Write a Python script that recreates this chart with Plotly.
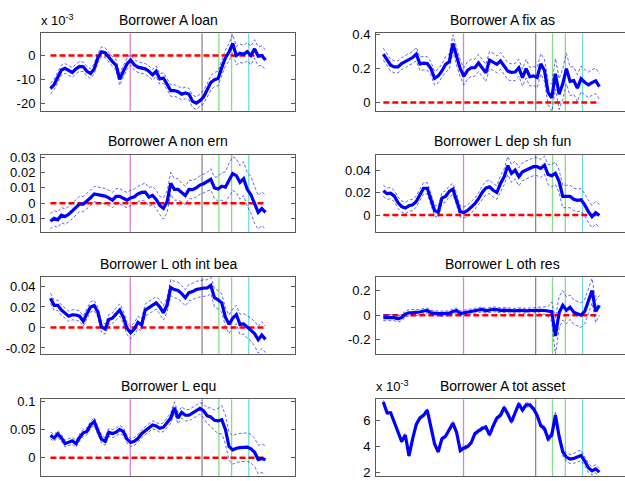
"""Borrower balance-sheet responses, 4x2 grid of small panels."""

import plotly.graph_objects as go

quarters = list(range(1, 61))
event_x = [22.9, 42.6, 47.2, 50.7, 55.4]
event_colors = ["#da80da", "#8a8a8a", "#86dc86", "#86dc86", "#70dde6"]

titles = [
    "Borrower A loan", "Borrower A fix as",
    "Borrower A non ern", "Borrower L dep sh fun",
    "Borrower L oth int bea", "Borrower L oth res",
    "Borrower L equ", "Borrower A tot asset",
]

# Borrower A loan, in units of 10^-3
a_loan = [-13.7, -12.0, -9.0, -6.0, -5.3, -6.0, -7.0, -5.5, -4.5, -4.6,
          -6.5, -7.5, -5.5, -1.0, 1.6, 1.2, -0.8, -2.5, -4.0, -9.9,
          -6.5, -3.5, -1.8, -3.8, -4.8, -5.2, -5.5, -6.5, -8.0, -6.5,
          -9.7, -9.3, -12.0, -14.5, -14.5, -15.0, -16.0, -15.5, -16.0, -19.0,
          -19.7, -18.7, -17.2, -14.5, -11.2, -10.0, -9.5, -5.0, -1.0, 1.5,
          5.0, 0.0, 1.0, 0.5, 1.6, 0.0, 2.8, -0.3, 0.0, -1.8]
a_loan_se = [2.2, 2.2, 2.2, 2.0, 2.0, 2.0, 2.0, 2.0, 2.0, 2.0,
             2.0, 2.0, 2.0, 2.0, 2.0, 2.0, 2.0, 2.0, 2.2, 2.4,
             2.4, 2.2, 2.2, 2.2, 2.2, 2.2, 2.2, 2.2, 2.2, 2.2,
             2.2, 2.2, 2.4, 2.4, 2.4, 2.4, 2.4, 2.4, 2.4, 2.6,
             2.6, 2.6, 2.8, 2.8, 3.0, 3.0, 3.0, 3.2, 3.4, 3.6,
             3.8, 3.8, 3.8, 3.8, 3.8, 3.8, 3.8, 4.0, 4.0, 4.2]

a_fix = [0.285, 0.25, 0.22, 0.21, 0.21, 0.23, 0.24, 0.255, 0.265, 0.285,
         0.228, 0.232, 0.23, 0.2, 0.143, 0.157, 0.186, 0.225, 0.24, 0.348,
         0.27, 0.2, 0.155, 0.19, 0.205, 0.205, 0.233, 0.2, 0.175, 0.25,
         0.24, 0.225, 0.245, 0.215, 0.185, 0.178, 0.18, 0.205, 0.147, 0.2,
         0.152, 0.157, 0.147, 0.228, 0.19, 0.06, 0.028, 0.17, 0.05, 0.11,
         0.2, 0.125, 0.13, 0.085, 0.14, 0.12, 0.105, 0.118, 0.128, 0.094]
a_fix_se = [0.035, 0.035, 0.035, 0.035, 0.035, 0.035, 0.035, 0.035, 0.035, 0.04,
            0.04, 0.04, 0.04, 0.04, 0.04, 0.04, 0.04, 0.045, 0.045, 0.05,
            0.05, 0.05, 0.05, 0.05, 0.05, 0.05, 0.05, 0.05, 0.05, 0.05,
            0.05, 0.05, 0.05, 0.05, 0.05, 0.05, 0.05, 0.05, 0.05, 0.055,
            0.055, 0.055, 0.06, 0.06, 0.065, 0.07, 0.08, 0.09, 0.09, 0.09,
            0.09, 0.085, 0.08, 0.08, 0.075, 0.075, 0.075, 0.075, 0.075, 0.075]

a_non_ern = [-0.0118, -0.0098, -0.0108, -0.0078, -0.0087, -0.0072, -0.005, -0.0025, -0.0005, -0.0006,
             0.0012, 0.0035, 0.006, 0.0055, 0.005, 0.0046, 0.0035, 0.002, 0.0045, 0.0045,
             0.0032, 0.002, 0.0034, 0.0042, 0.006, 0.007, 0.0072, 0.004, 0.005, 0.0025,
             -0.0015, -0.0034, 0.001, 0.013, 0.009, 0.009, 0.007, 0.005, 0.009, 0.0088,
             0.01, 0.0118, 0.0127, 0.014, 0.0155, 0.01, 0.0092, 0.011, 0.0104, 0.015,
             0.0193, 0.018, 0.0136, 0.016, 0.009, 0.0055, -0.001, -0.006, -0.0035, -0.006]
a_non_ern_se = [0.005, 0.005, 0.005, 0.005, 0.005, 0.005, 0.005, 0.005, 0.005, 0.005,
                0.005, 0.005, 0.005, 0.005, 0.005, 0.005, 0.005, 0.005, 0.005, 0.005,
                0.005, 0.005, 0.005, 0.005, 0.005, 0.005, 0.006, 0.006, 0.006, 0.006,
                0.006, 0.007, 0.007, 0.007, 0.007, 0.007, 0.006, 0.006, 0.006, 0.006,
                0.006, 0.006, 0.006, 0.006, 0.007, 0.007, 0.008, 0.009, 0.01, 0.011,
                0.011, 0.011, 0.011, 0.011, 0.011, 0.012, 0.012, 0.011, 0.011, 0.011]

l_dep = [0.0215, 0.019, 0.0194, 0.0168, 0.011, 0.0075, 0.0062, 0.0082, 0.009, 0.012,
         0.018, 0.0238, 0.0238, 0.014, 0.004, 0.0025, 0.015, 0.0165, 0.021, 0.023,
         0.014, 0.003, 0.0022, 0.004, 0.007, 0.01, 0.0145, 0.02, 0.024, 0.025,
         0.022, 0.02, 0.028, 0.034, 0.044, 0.037, 0.04, 0.034, 0.0385, 0.04,
         0.042, 0.043, 0.043, 0.0415, 0.0444, 0.036, 0.035, 0.037, 0.03, 0.0165,
         0.0165, 0.0165, 0.014, 0.013, 0.0135, 0.009, 0.003, -0.0015, 0.002, -0.0005]
l_dep_se = [0.005, 0.005, 0.005, 0.005, 0.005, 0.005, 0.005, 0.005, 0.005, 0.005,
            0.005, 0.005, 0.005, 0.005, 0.005, 0.005, 0.005, 0.005, 0.005, 0.005,
            0.005, 0.005, 0.005, 0.005, 0.005, 0.005, 0.005, 0.006, 0.006, 0.006,
            0.006, 0.006, 0.007, 0.007, 0.008, 0.008, 0.008, 0.008, 0.008, 0.008,
            0.008, 0.008, 0.008, 0.008, 0.008, 0.009, 0.01, 0.01, 0.01, 0.01,
            0.01, 0.01, 0.01, 0.01, 0.01, 0.01, 0.01, 0.01, 0.01, 0.01]

l_oth_int = [0.0285, 0.0216, 0.0216, 0.017, 0.014, 0.011, 0.0124, 0.0122, 0.011, 0.0061,
             0.0135, 0.02, 0.0215, 0.015, 0.0005, -0.0015, 0.0077, 0.009, 0.013, 0.017,
             0.01, -0.001, -0.005, -0.0015, 0.005, 0.0023, 0.017, 0.0195, 0.022, 0.024,
             0.02, 0.0142, 0.022, 0.039, 0.037, 0.036, 0.033, 0.029, 0.034, 0.035,
             0.037, 0.038, 0.0384, 0.0385, 0.041, 0.029, 0.027, 0.024, 0.01, 0.003,
             0.009, 0.0126, 0.003, 0.0035, 0.0005, -0.002, -0.006, -0.012, -0.0074, -0.0116]
l_oth_int_se = [0.005, 0.005, 0.005, 0.005, 0.005, 0.005, 0.005, 0.005, 0.005, 0.005,
                0.005, 0.005, 0.005, 0.005, 0.005, 0.005, 0.005, 0.005, 0.006, 0.006,
                0.006, 0.006, 0.006, 0.006, 0.006, 0.006, 0.006, 0.006, 0.006, 0.006,
                0.007, 0.007, 0.007, 0.008, 0.008, 0.008, 0.008, 0.008, 0.008, 0.008,
                0.008, 0.008, 0.008, 0.008, 0.008, 0.009, 0.009, 0.009, 0.009, 0.009,
                0.009, 0.009, 0.01, 0.01, 0.011, 0.011, 0.012, 0.013, 0.013, 0.013]

l_oth_res = [-0.02, -0.02, -0.02, -0.02, -0.03, -0.02, 0.008, 0.02, 0.021, 0.021,
             0.026, 0.034, 0.038, 0.02, 0.015, 0.013, 0.013, 0.014, 0.016, 0.03,
             0.038, 0.014, 0.018, 0.024, 0.03, 0.036, 0.042, 0.047, 0.036, 0.04,
             0.048, 0.045, 0.04, 0.042, 0.04, 0.036, 0.035, 0.04, 0.037, 0.035,
             0.038, 0.04, 0.04, 0.04, 0.038, 0.03, 0.028, -0.17, 0.02, 0.08,
             0.04, 0.065, 0.025, 0.012, 0.0, 0.03, 0.12, 0.2, 0.03, 0.08]
l_oth_res_se = [0.025, 0.025, 0.025, 0.025, 0.025, 0.025, 0.025, 0.025, 0.025, 0.025,
                0.02, 0.02, 0.02, 0.02, 0.02, 0.02, 0.02, 0.02, 0.02, 0.02,
                0.02, 0.02, 0.02, 0.02, 0.02, 0.02, 0.02, 0.02, 0.02, 0.02,
                0.02, 0.02, 0.02, 0.02, 0.02, 0.02, 0.02, 0.02, 0.02, 0.02,
                0.02, 0.02, 0.02, 0.025, 0.03, 0.04, 0.08, 0.15, 0.13, 0.12,
                0.11, 0.1, 0.1, 0.1, 0.1, 0.1, 0.1, 0.1, 0.09, 0.08]

l_equ = [0.0395, 0.035, 0.042, 0.035, 0.025, 0.027, 0.03, 0.025, 0.036, 0.044,
         0.0466, 0.058, 0.064, 0.048, 0.033, 0.029, 0.045, 0.0428, 0.045, 0.05,
         0.046, 0.033, 0.027, 0.029, 0.034, 0.0425, 0.048, 0.054, 0.058, 0.056,
         0.052, 0.054, 0.062, 0.07, 0.088, 0.07, 0.08, 0.075, 0.075, 0.079,
         0.084, 0.087, 0.083, 0.074, 0.072, 0.066, 0.065, 0.067, 0.05, 0.02,
         0.014, 0.017, 0.018, 0.0185, 0.019, 0.016, 0.01, -0.003, -0.001, -0.0035]
l_equ_se = [0.006, 0.006, 0.006, 0.006, 0.006, 0.006, 0.006, 0.006, 0.006, 0.006,
            0.006, 0.006, 0.007, 0.007, 0.007, 0.007, 0.007, 0.007, 0.007, 0.007,
            0.007, 0.007, 0.007, 0.007, 0.007, 0.007, 0.007, 0.007, 0.007, 0.007,
            0.007, 0.008, 0.008, 0.009, 0.01, 0.01, 0.01, 0.01, 0.01, 0.01,
            0.01, 0.01, 0.012, 0.014, 0.016, 0.018, 0.022, 0.025, 0.025, 0.025,
            0.025, 0.025, 0.025, 0.025, 0.025, 0.025, 0.025, 0.025, 0.025, 0.025]

# Borrower A tot asset, in units of 10^-3
a_tot = [7.42, 6.6, 6.6, 5.9, 5.2, 4.4, 4.9, 3.3, 4.6, 5.7,
         6.2, 6.4, 6.8, 5.4, 4.2, 3.6, 4.6, 4.8, 5.3, 5.8,
         5.1, 3.7, 3.9, 4.0, 4.3, 5.0, 5.2, 5.4, 5.5, 4.9,
         5.6, 6.2, 6.4, 7.0, 6.5, 5.9, 6.6, 7.28, 6.8, 7.2,
         7.2, 6.9, 6.4, 5.6, 5.4, 4.6, 4.9, 6.4, 4.8, 3.6,
         3.2, 3.05, 3.1, 3.25, 3.33, 2.9, 2.38, 2.15, 2.3, 2.05]
a_tot_se = [0.13, 0.13, 0.13, 0.13, 0.13, 0.13, 0.13, 0.13, 0.13, 0.13,
            0.13, 0.13, 0.13, 0.13, 0.13, 0.13, 0.13, 0.13, 0.13, 0.13,
            0.14, 0.14, 0.14, 0.14, 0.14, 0.14, 0.14, 0.14, 0.14, 0.14,
            0.15, 0.15, 0.15, 0.15, 0.15, 0.15, 0.15, 0.15, 0.15, 0.15,
            0.16, 0.17, 0.18, 0.2, 0.2, 0.22, 0.25, 0.3, 0.3, 0.3,
            0.32, 0.35, 0.38, 0.4, 0.4, 0.38, 0.35, 0.32, 0.32, 0.32]

ticks = [
    ([-20, -10, 0], ["-20", "-10", "0"]),
    ([0, 0.2, 0.4], ["0", "0.2", "0.4"]),
    ([-0.01, 0, 0.01, 0.02, 0.03], ["-0.01", "0", "0.01", "0.02", "0.03"]),
    ([0, 0.02, 0.04], ["0", "0.02", "0.04"]),
    ([-0.02, 0, 0.02, 0.04], ["-0.02", "0", "0.02", "0.04"]),
    ([-0.2, 0, 0.2], ["-0.2", "0", "0.2"]),
    ([0, 0.05, 0.1], ["0", "0.05", "0.1"]),
    ([2, 4, 6], ["2", "4", "6"]),
]

series = [
    (a_loan, a_loan_se), (a_fix, a_fix_se),
    (a_non_ern, a_non_ern_se), (l_dep, l_dep_se),
    (l_oth_int, l_oth_int_se), (l_oth_res, l_oth_res_se),
    (l_equ, l_equ_se), (a_tot, a_tot_se),
]

y_ranges = [
    [-22.9, 9.2], [-0.048, 0.407],
    [-0.0189, 0.0317], [-0.0153, 0.0538],
    [-0.026, 0.049], [-0.317, 0.309],
    [-0.032, 0.103], [1.75, 7.625],
]
scaled = [0, 7]  # panels drawn in units of 10^-3

W, H = 625, 481
col_dom = [[41 / W, 295 / W], [376 / W, 1.0]]
col_title_x = [168 / W, 502 / W]
col_xrange = [[-1.6, 68.1], [-1.0, 67.0]]
row_px = [(28, 107), (151.7, 231), (277, 355.5), (401.7, 480)]

BLUE = "#0000ff"
BAND = "rgba(30,30,225,0.85)"
AXIS = "#5a5a5a"

fig = go.Figure()
layout = {}
annotations = []
shapes = []

for k, (mid, se) in enumerate(series):
    row, col = divmod(k, 2)
    n = "" if k == 0 else str(k + 1)
    xa, ya = "x" + n, "y" + n
    top_px, bot_px = row_px[row]
    ydom = [(H - bot_px) / H, (H - top_px) / H]

    upper = [m + s for m, s in zip(mid, se)]
    lower = [m - s for m, s in zip(mid, se)]

    fig.add_trace(go.Scatter(x=[quarters[0], quarters[-1]], y=[0, 0], mode="lines",
                             line=dict(color="#ff0000", width=2.5, dash="6px,3px"),
                             xaxis=xa, yaxis=ya, showlegend=False))
    for band in (upper, lower):
        fig.add_trace(go.Scatter(x=quarters, y=band, mode="lines",
                                 line=dict(color=BAND, width=0.8, dash="3px,2px"),
                                 xaxis=xa, yaxis=ya, showlegend=False))
    fig.add_trace(go.Scatter(x=quarters, y=mid, mode="lines",
                             line=dict(color=BLUE, width=3.2),
                             xaxis=xa, yaxis=ya, showlegend=False))

    layout["xaxis" + n] = dict(
        domain=col_dom[col], range=col_xrange[col], anchor=ya,
        showticklabels=False, ticks="", showgrid=False, zeroline=False,
        showline=True, linecolor=AXIS, linewidth=1, mirror=True,
    )
    tv, tt = ticks[k]
    layout["yaxis" + n] = dict(
        domain=ydom, range=y_ranges[k], anchor=xa,
        tickvals=tv, ticktext=tt, ticks="inside", ticklen=4,
        tickcolor=AXIS, showgrid=False, zeroline=False,
        showline=True, linecolor=AXIS, linewidth=1,
        mirror="ticks" if col == 0 else False,
        ticklabelstandoff=2, ticklabeloverflow="allow",
    )

    for ex, ec in zip(event_x, event_colors):
        shapes.append(dict(type="line", xref=xa, yref=ya + " domain",
                           x0=ex, x1=ex, y0=0, y1=1, layer="below",
                           line=dict(color=ec, width=1.3)))

    annotations.append(dict(text=titles[k], xref="paper", yref="paper",
                            x=col_title_x[col], y=(H - top_px + 14) / H,
                            xanchor="center", yanchor="middle", showarrow=False,
                            font=dict(size=14)))
    if k in scaled:
        annotations.append(dict(text="x 10<sup>-3</sup>", xref="paper", yref="paper",
                                x=col_dom[col][0] - 2 / W, y=(H - top_px + 3) / H,
                                xanchor="left", yanchor="bottom", showarrow=False,
                                font=dict(size=13)))

fig.update_layout(
    **layout,
    width=W, height=H,
    margin=dict(l=0, r=0, t=0, b=0),
    paper_bgcolor="white", plot_bgcolor="white",
    font=dict(family="Liberation Sans, Arial, sans-serif", size=13, color="black"),
    annotations=annotations, shapes=shapes, showlegend=False,
)

fig.write_html("out.html", config={"displayModeBar": False},
               post_script="document.body.style.margin='0px';")
